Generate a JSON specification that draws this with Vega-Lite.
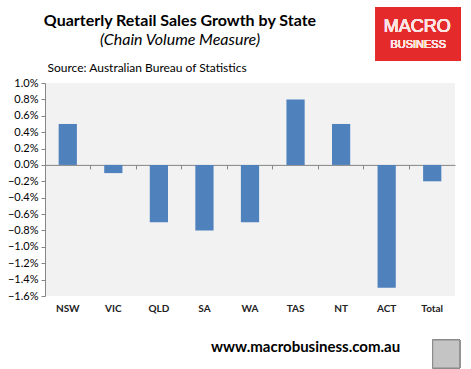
{
  "$schema": "https://vega.github.io/schema/vega-lite/v6.json",
  "autosize": {"type": "none"},
  "width": 410,
  "height": 213,
  "padding": {"left": 45, "top": 83, "right": 16, "bottom": 73},
  "background": "white",
  "config": {
    "view": {"fill": "#f2f2f2", "stroke": null},
    "font": "Lato"
  },
  "title": {
    "text": "Quarterly Retail Sales Growth by State",
    "subtitle": "(Chain Volume Measure)",
    "anchor": "middle",
    "dx": -70,
    "offset": -41,
    "font": "Lato",
    "fontSize": 16,
    "fontWeight": "bold",
    "color": "#000000",
    "subtitleFont": "Lato",
    "subtitleFontSize": 16,
    "subtitleFontStyle": "italic",
    "subtitleColor": "#000000",
    "subtitlePadding": 3,
    "frame": "group"
  },
  "data": {
    "values": [
      {"state": "NSW", "growth": 0.005},
      {"state": "VIC", "growth": -0.001},
      {"state": "QLD", "growth": -0.007},
      {"state": "SA", "growth": -0.008},
      {"state": "WA", "growth": -0.007},
      {"state": "TAS", "growth": 0.008},
      {"state": "NT", "growth": 0.005},
      {"state": "ACT", "growth": -0.015},
      {"state": "Total", "growth": -0.002}
    ]
  },
  "resolve": {"axis": {"x": "independent", "y": "independent"}},
  "layer": [
    {
      "mark": {"type": "bar", "color": "#4f81bd", "width": {"band": 0.4}},
      "encoding": {
        "x": {
          "field": "state",
          "type": "nominal",
          "sort": null,
          "scale": {"paddingInner": 0, "paddingOuter": 0},
          "axis": {
            "orient": "bottom",
            "title": "www.macrobusiness.com.au",
            "titleFont": "Lato",
            "titleFontSize": 15,
            "titleFontWeight": "bold",
            "titleColor": "#000000",
            "titleAnchor": "start",
            "titleAlign": "center",
            "titleX": 260,
            "titleY": 55,
            "titleBaseline": "alphabetic",
            "domain": false,
            "ticks": false,
            "labelAngle": 0,
            "labelFont": "Lato",
            "labelFontSize": 10,
            "labelFontWeight": "bold",
            "labelColor": "#222222",
            "labelPadding": 7
          }
        },
        "y": {
          "field": "growth",
          "type": "quantitative",
          "scale": {"domain": [-0.016, 0.01], "nice": false, "zero": false},
          "axis": {
            "orient": "left",
            "values": [-0.016, -0.014, -0.012, -0.01, -0.008, -0.006, -0.004, -0.002, 0, 0.002, 0.004, 0.006, 0.008, 0.01],
            "format": ".1%",
            "grid": false,
            "domainColor": "#868686",
            "tickColor": "#868686",
            "tickSize": 4,
            "labelFont": "Lato",
            "labelFontSize": 11,
            "labelColor": "#000000",
            "labelPadding": 3,
            "title": "Source: Australian Bureau of Statistics",
            "titleAngle": 0,
            "titleAlign": "left",
            "titleBaseline": "alphabetic",
            "titleX": 2,
            "titleY": -12,
            "titleFont": "Lato",
            "titleFontSize": 12,
            "titleFontWeight": "normal",
            "titleColor": "#000000"
          }
        }
      }
    },
    {
      "mark": {"type": "rule", "color": "#868686", "opacity": 0},
      "encoding": {
        "x": {
          "field": "state",
          "type": "nominal",
          "sort": null,
          "axis": {
            "orient": "top",
            "offset": -81.9,
            "labels": false,
            "title": null,
            "domainColor": "#868686",
            "tickColor": "#868686",
            "tickSize": -4,
            "bandPosition": 0
          }
        }
      }
    },
    {
      "mark": {"type": "bar", "color": "#e42a2a", "width": 85, "xOffset": -14},
      "encoding": {
        "x": {"datum": "Total", "type": "nominal", "axis": null},
        "y": {"datum": 0.01928, "type": "quantitative", "axis": null},
        "y2": {"datum": 0.01269}
      }
    },
    {
      "mark": {"type": "text", "color": "#fde4e4", "font": "Liberation Sans", "fontWeight": "normal", "fontSize": 18, "dx": -15, "baseline": "middle"},
      "encoding": {
        "x": {"datum": "Total", "type": "nominal", "axis": null},
        "y": {"datum": 0.01684, "type": "quantitative", "axis": null},
        "text": {"value": "MACRO"}
      }
    },
    {
      "mark": {"type": "text", "color": "#fde4e4", "font": "Liberation Sans", "fontWeight": "normal", "fontSize": 11, "dx": -14, "baseline": "middle"},
      "encoding": {
        "x": {"datum": "Total", "type": "nominal", "axis": null},
        "y": {"datum": 0.01466, "type": "quantitative", "axis": null},
        "text": {"value": "BUSINESS"}
      }
    },
    {
      "mark": {"type": "bar", "color": "#c4c4c4", "stroke": "#8a8a8a", "strokeWidth": 1, "width": 27, "xOffset": 14},
      "encoding": {
        "x": {"datum": "Total", "type": "nominal", "axis": null},
        "y": {"datum": -0.02137, "type": "quantitative", "axis": null},
        "y2": {"datum": -0.02479}
      }
    }
  ]
}
